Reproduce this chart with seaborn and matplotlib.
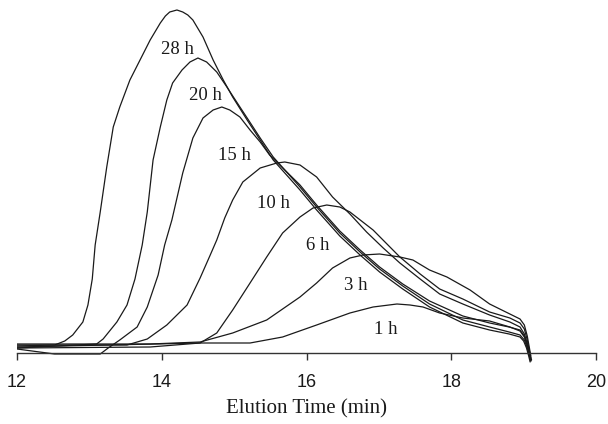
import matplotlib
matplotlib.use('Agg')
import matplotlib.pyplot as plt
import numpy as np
import pandas as pd
import seaborn as sns

sns.set_theme(style="white")
plt.rcParams['font.family'] = ['Liberation Sans', 'DejaVu Sans']

# elution time (min) / detector response (arb. units)
t_28h = [12.00, 12.52, 12.66, 12.77, 12.91, 12.98, 13.04, 13.08, 13.15, 13.24, 13.33, 13.42,
         13.56, 13.70, 13.84, 13.98, 14.05, 14.11, 14.21, 14.29, 14.36, 14.43, 14.57, 14.71,
         14.85, 14.98, 15.18, 15.36, 15.54, 15.91, 16.14, 16.46, 16.74, 17.01, 17.33, 17.70,
         18.16, 18.53, 18.80, 18.95, 19.00, 19.04, 19.07, 19.09]
y_28h = [7, 8, 12, 18, 31, 48, 74, 108, 141, 186, 226, 246,
         273, 293, 313, 330, 337, 341, 343, 341, 338, 333, 316, 293,
         273, 256, 233, 213, 193, 163, 143, 117, 98, 81, 64, 46,
         30, 23, 19, 16, 12, 5, -3, -9]

t_20h = [12.00, 13.10, 13.19, 13.38, 13.52, 13.63, 13.73, 13.80, 13.88, 13.98, 14.07, 14.15,
         14.28, 14.39, 14.50, 14.62, 14.76, 14.90, 15.08, 15.18, 15.36, 15.54, 15.91, 16.14,
         16.46, 16.74, 17.01, 17.33, 17.70, 18.16, 18.53, 18.80, 18.95, 19.01, 19.05, 19.08, 19.10]
y_20h = [5, 9, 14, 31, 48, 74, 108, 141, 193, 226, 253, 270,
         283, 291, 295, 291, 281, 266, 246, 235, 215, 196, 166, 146,
         120, 101, 84, 67, 49, 33, 26, 21, 18, 13, 5, -3, -8]

t_15h = [12.00, 12.52, 13.15, 13.26, 13.42, 13.66, 13.80, 13.95, 14.04, 14.14, 14.29, 14.43,
         14.57, 14.71, 14.83, 14.94, 15.08, 15.22, 15.36, 15.49, 15.91, 16.14, 16.46, 16.74,
         17.01, 17.33, 17.70, 18.16, 18.53, 18.80, 18.95, 19.01, 19.06, 19.09, 19.11]
y_15h = [4, -1, -1, 5, 13, 26, 46, 78, 108, 133, 180, 215,
         235, 243, 246, 243, 236, 223, 211, 198, 168, 148, 122, 103,
         86, 69, 52, 37, 30, 26, 23, 17, 7, -2, -7]

t_10h = [12.00, 13.52, 13.80, 14.07, 14.35, 14.53, 14.67, 14.76, 14.87, 14.98, 15.12, 15.36,
         15.59, 15.70, 15.91, 16.14, 16.36, 16.60, 16.83, 17.06, 17.29, 17.57, 17.84, 18.16,
         18.53, 18.81, 18.95, 19.01, 19.05, 19.08, 19.10]
y_10h = [8, 8, 14, 28, 48, 75, 98, 113, 135, 153, 171, 185,
         190, 191, 188, 176, 156, 139, 121, 105, 90, 74, 59, 49,
         38, 31, 26, 19, 9, 0, -7]

t_6h = [12.00, 13.84, 14.53, 14.76, 14.98, 15.22, 15.45, 15.67, 15.91, 16.09, 16.28, 16.46,
        16.60, 16.92, 17.29, 17.57, 17.84, 18.16, 18.53, 18.81, 18.95, 19.01, 19.05, 19.08, 19.10]
y_6h = [5, 6, 10, 20, 43, 70, 96, 120, 136, 145, 148, 146,
        141, 123, 96, 79, 64, 54, 41, 35, 30, 24, 13, 2, -5]

t_3h = [12.00, 13.84, 14.53, 14.98, 15.45, 15.91, 16.14, 16.36, 16.60, 16.78, 17.01, 17.29,
        17.47, 17.70, 17.94, 18.26, 18.53, 18.81, 18.95, 19.01, 19.05, 19.08, 19.10]
y_3h = [9, 9, 11, 20, 33, 56, 70, 85, 95, 98, 99, 96,
        93, 83, 76, 63, 49, 39, 34, 28, 17, 5, -3]

t_1h = [12.00, 14.53, 15.22, 15.67, 16.14, 16.60, 16.92, 17.25, 17.43, 17.61, 17.84, 18.16,
        18.53, 18.81, 18.95, 19.01, 19.05, 19.08, 19.10]
y_1h = [6, 10, 10, 16, 28, 40, 46, 49, 48, 46, 40, 35,
        32, 26, 22, 16, 7, -2, -8]

names = ['28 h', '20 h', '15 h', '10 h', '6 h', '3 h', '1 h']
times = [t_28h, t_20h, t_15h, t_10h, t_6h, t_3h, t_1h]
signals = [y_28h, y_20h, y_15h, y_10h, y_6h, y_3h, y_1h]

# where each reaction-time label sits
label_x = [14.22, 14.60, 15.00, 15.55, 16.16, 16.68, 17.10]
label_y = [303, 257, 198, 150, 107, 67, 23]

frames = []
for name, t, y in zip(names, times, signals):
    frames.append(pd.DataFrame({'time': t, 'signal': y, 'sample': name}))
df = pd.concat(frames, ignore_index=True)

fig = plt.figure(figsize=(6.08, 4.24), dpi=100)
ax = fig.add_axes([17 / 608, 56 / 424, 579 / 608, 368 / 424])

sns.lineplot(data=df, x='time', y='signal', hue='sample', units='sample', estimator=None,
             palette=['#1a1a1a'] * len(names), linewidth=0.9, legend=False, ax=ax)

for name, x, y in zip(names, label_x, label_y):
    ax.text(x, y, name, ha='center', va='center', fontsize=13.5,
            family=['Liberation Serif', 'DejaVu Serif'], color='#1a1a1a')

ax.set_xlim(12, 20)
ax.set_ylim(-15, 353)
for side in ['top', 'left', 'right']:
    ax.spines[side].set_visible(False)
ax.spines['bottom'].set_position(('data', 0))
ax.spines['bottom'].set_color('#333333')
ax.spines['bottom'].set_linewidth(1.0)
ax.set_xticks([12, 14, 16, 18, 20])
ax.set_yticks([])
ax.tick_params(axis='x', direction='out', length=5, width=1.0, color='#333333',
               pad=10, labelsize=13, labelcolor='#1a1a1a', bottom=True)
ax.set_ylabel('')
ax.set_xlabel('Elution Time (min)', fontsize=15, family=['Liberation Serif', 'DejaVu Serif'],
              color='#1a1a1a', labelpad=6)

fig.savefig('out.png', dpi=100)
